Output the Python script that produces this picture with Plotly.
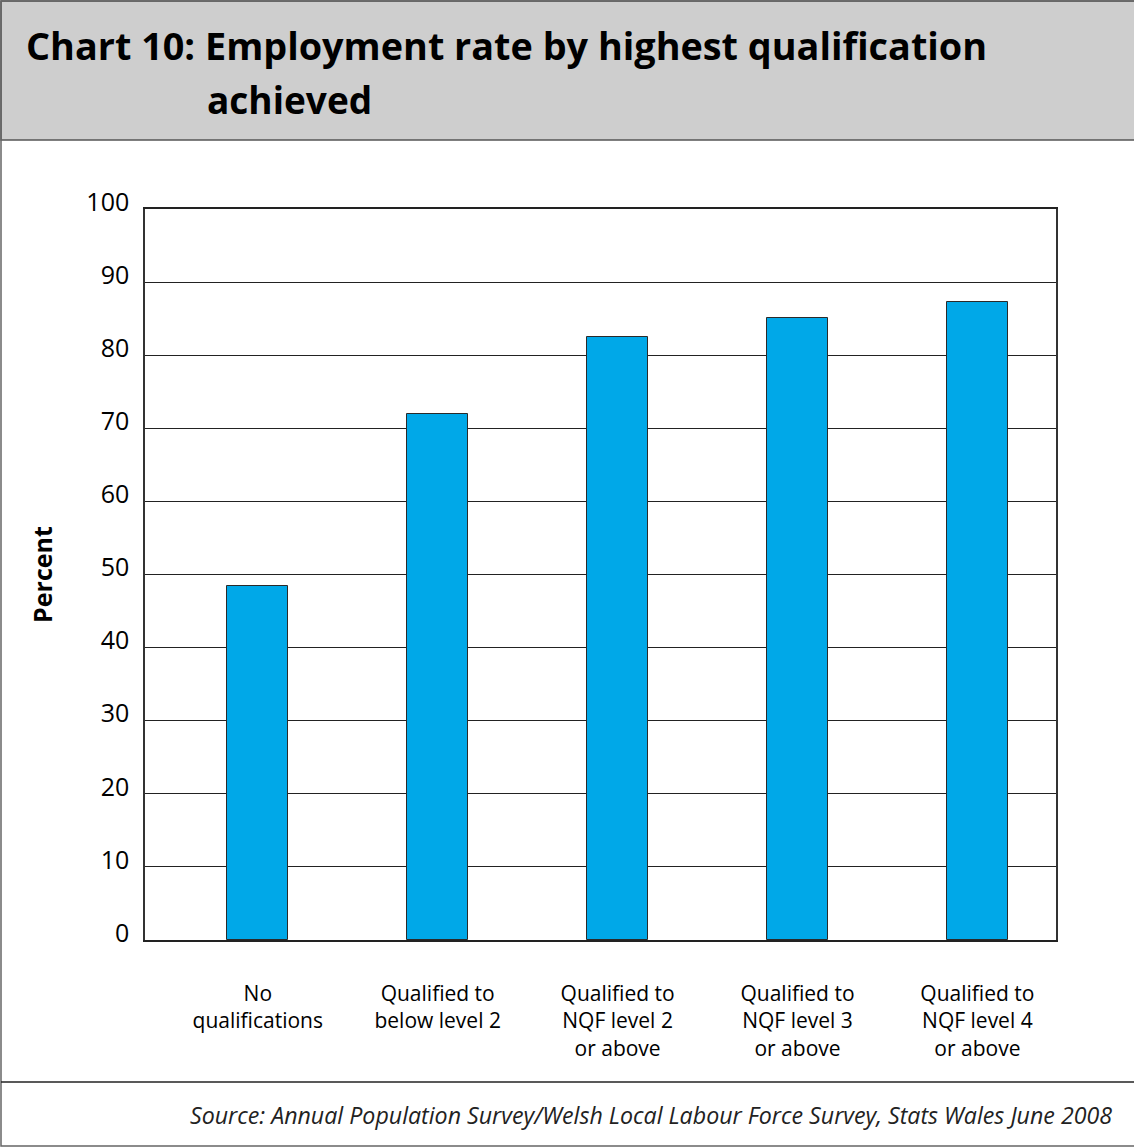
import plotly.graph_objects as go

# Employment rate (%) by highest qualification achieved, Wales
categories = [
    "No<br>qualifications",
    "Qualified to<br>below level 2",
    "Qualified to<br>NQF level 2<br>or above",
    "Qualified to<br>NQF level 3<br>or above",
    "Qualified to<br>NQF level 4<br>or above",
]
employment_rate = [48.4, 72.0, 82.5, 85.1, 87.3]
y_ticks = [0, 10, 20, 30, 40, 50, 60, 70, 80, 90, 100]

W, H = 1134, 1147
L, R, T, B = 145, 1056, 209, 940  # plot-area edges in pixels
FONT = "Open Sans"


def px_x(x):
    return (x - L) / (R - L)


def px_y(y):
    return (B - y) / (B - T)


fig = go.Figure(
    go.Bar(
        x=categories,
        y=employment_rate,
        width=0.34,
        marker=dict(color="#00a8e8", line=dict(color="#2a2a2a", width=1)),
        hoverinfo="x+y",
    )
)

fig.update_layout(
    width=W,
    height=H,
    margin=dict(l=L, r=W - R, t=T, b=H - B),
    paper_bgcolor="white",
    plot_bgcolor="white",
    showlegend=False,
    font=dict(family=FONT, color="black"),
    bargap=0,
)

fig.update_xaxes(
    type="category",
    range=[-0.627, 4.437],
    showgrid=False,
    showline=True,
    linecolor="#222",
    linewidth=1.5,
    mirror=True,
    ticks="",
    tickfont=dict(size=21, family=FONT),
    ticklabelstandoff=34,
)

fig.update_yaxes(
    range=[0, 100],
    tickvals=y_ticks,
    showgrid=True,
    gridcolor="#222",
    gridwidth=1,
    zeroline=False,
    showline=True,
    linecolor="#333",
    linewidth=1.5,
    mirror=True,
    ticks="",
    tickfont=dict(size=25, family=FONT),
    ticklabelstandoff=9,
    ticklabelshift=-7,
    title=dict(text="<b>Percent</b>", font=dict(size=25, family=FONT), standoff=27),
)

# Grey title band, outer frame and footer separator
fig.add_shape(type="rect", xref="paper", yref="paper",
              x0=px_x(1), x1=px_x(W + 5), y0=px_y(140), y1=px_y(1),
              fillcolor="#cecece", line=dict(color="#555", width=1.5), layer="below")
fig.add_shape(type="rect", xref="paper", yref="paper",
              x0=px_x(1), x1=px_x(W + 5), y0=px_y(H - 1), y1=px_y(1),
              fillcolor="rgba(0,0,0,0)", line=dict(color="#666", width=1.5))
fig.add_shape(type="line", xref="paper", yref="paper",
              x0=px_x(1), x1=px_x(W), y0=px_y(1082), y1=px_y(1082),
              line=dict(color="#222", width=1.5))

fig.add_annotation(text="<b>Chart 10: Employment rate by highest qualification</b>",
                   xref="paper", yref="paper", x=px_x(24), y=px_y(45),
                   xanchor="left", yanchor="middle", showarrow=False,
                   font=dict(size=37.8, family=FONT, color="black"))
fig.add_annotation(text="<b>achieved</b>",
                   xref="paper", yref="paper", x=px_x(205), y=px_y(100),
                   xanchor="left", yanchor="middle", showarrow=False,
                   font=dict(size=37, family=FONT, color="black"))
fig.add_annotation(text="<i>Source: Annual Population Survey/Welsh Local Labour Force Survey, Stats Wales June 2008</i>",
                   xref="paper", yref="paper", x=px_x(1114), y=px_y(1115),
                   xanchor="right", yanchor="middle", showarrow=False,
                   font=dict(size=23.2, family=FONT, color="#222"))

fig.write_html("out.html")
